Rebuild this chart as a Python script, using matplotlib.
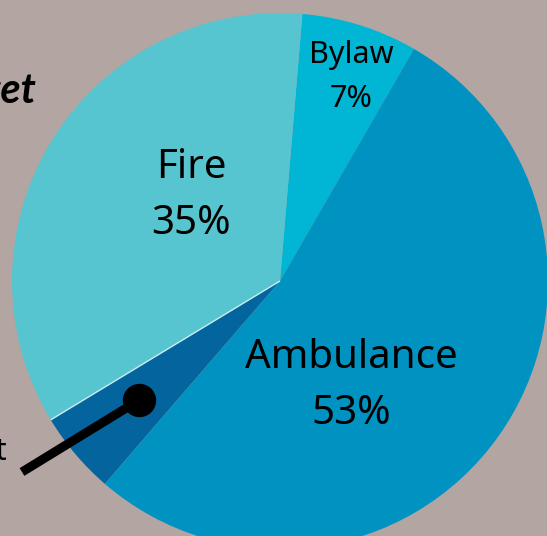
import matplotlib
matplotlib.use("Agg")
import matplotlib.pyplot as plt
import numpy as np

# data
categories = ["Bylaw", "Fire", "Emergency Management", "Ambulance"]
values = [7, 35, 5, 53]
colors = ["#00b6d4", "#57c5cf", "#04649d", "#0093c2"]
bg = "#b2a5a2"

W, H = 547, 536
fig = plt.figure(figsize=(W / 100, H / 100), dpi=100, facecolor=bg)
ax = fig.add_axes([0, 0, 1, 1])

cx, cy, R = 280, H - 281, 268
wedges, _ = ax.pie(values, colors=colors, startangle=60, counterclock=True,
                   center=(cx, cy), radius=R, frame=True,
                   wedgeprops=dict(linewidth=0))
ax.set_xlim(0, W)
ax.set_ylim(0, H)
ax.set_aspect("equal")
ax.axis("off")

# thin light edge between Fire and the small slice
ang = np.deg2rad(60 + 360 * (values[0] + values[1]) / 100)
ax.plot([cx, cx + R * np.cos(ang)], [cy, cy + R * np.sin(ang)],
        color="#c8eef2", lw=1.0, solid_capstyle="butt")

font = "Noto Sans"
# in-slice labels (pixel layout)
label_pos = {"Fire": (191, 206, 29, 56),
             "Bylaw": (351, 85, 22, 44),
             "Ambulance": (351, 396, 29, 57)}
for cat, v in zip(categories, values):
    if cat in label_pos:
        x, yc, fs, gap = label_pos[cat]
        ax.text(x, H - (yc - gap / 2), cat, ha="center", va="baseline",
                fontsize=fs, family=font, color="black")
        ax.text(x, H - (yc + gap / 2), f"{v}%", ha="center", va="baseline",
                fontsize=fs, family=font, color="black")

# callout for the small slice
mid = np.deg2rad(60 + 360 * (values[0] + values[1] + values[2] / 2) / 100)
px, py = cx + 0.69 * R * np.cos(mid), cy + 0.69 * R * np.sin(mid)
ax.plot([px, 22], [py, H - 472], color="black", lw=6.5, solid_capstyle="butt")
ax.plot([px], [py], "o", color="black", markersize=23)
ax.text(7, H - 460, "Emergency Management", ha="right", va="baseline",
        fontsize=22, family=font, color="black")

# cut-off title
ax.text(36, H - 103, "Budget", ha="right", va="baseline", fontsize=30,
        family="Lato", fontweight="bold", fontstyle="italic", color="black")

fig.savefig("out.png", dpi=100, facecolor=bg)
